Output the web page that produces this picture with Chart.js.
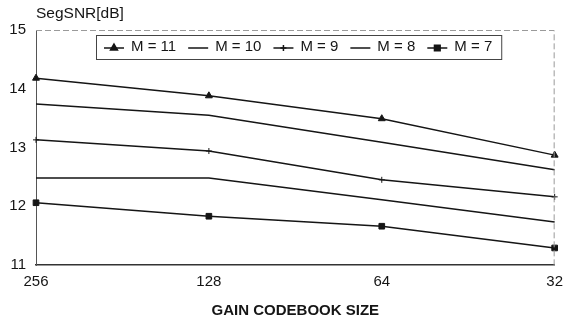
<!DOCTYPE html>
<html>
<head>
<meta charset="utf-8">
<script src="https://cdn.jsdelivr.net/npm/chart.js@4.4.0/dist/chart.umd.min.js"></script>
<style>
    html, body { margin: 0; padding: 0; background: #fff; }
    #wrap { width: 571px; height: 320px; position: relative; }
</style>
</head>
<body>
<div id="wrap"><canvas id="snrChart" width="571" height="320"></canvas></div>
<script>
// Dados
const codebookSizes = ['256', '128', '64', '32'];
const seriesLabels = ['M = 11', 'M = 10', 'M = 9', 'M = 8', 'M = 7'];
const m11 = [14.18, 13.88, 13.49, 12.87];
const m10 = [13.74, 13.55, 13.09, 12.62];
const m9 = [13.13, 12.94, 12.45, 12.16];
const m8 = [12.48, 12.48, 12.11, 11.73];
const m7 = [12.06, 11.83, 11.66, 11.29];
const yTicks = [11, 12, 13, 14, 15];

const seriesValues = [m11, m10, m9, m8, m7];
const markerStyles = ['triangle', 'line', 'cross', 'line', 'rect'];
const markerSizes = [4, 0, 3, 0, 4];

const ink = '#151515';

// Legenda dentro da área do gráfico, com moldura
const boxedLegend = {
    id: 'boxedLegend',
    afterDraw(chart) {
        const ctx = chart.ctx;
        const area = chart.chartArea;
        ctx.save();
        // moldura tracejada superior e direita
        ctx.strokeStyle = '#9a9a9a';
        ctx.lineWidth = 1;
        ctx.setLineDash([6, 3]);
        ctx.beginPath();
        ctx.moveTo(area.left, area.top + 0.5);
        ctx.lineTo(area.right - 0.5, area.top + 0.5);
        ctx.lineTo(area.right - 0.5, area.bottom);
        ctx.stroke();
        ctx.setLineDash([]);

        ctx.font = '15px "Liberation Sans", Arial, sans-serif';
        ctx.textBaseline = 'middle';
        const boxLeft = 96, boxTop = 35, boxH = 24;
        const midY = boxTop + boxH / 2;
        let x = boxLeft + 8;
        const items = [];
        chart.data.datasets.forEach((ds, i) => {
            const lineX = x;
            x += 20 + 7;
            const textX = x;
            x += ctx.measureText(ds.label).width + 12;
            items.push({ ds, i, lineX, textX });
        });
        const boxW = x - boxLeft - 3;
        ctx.fillStyle = '#fff';
        ctx.fillRect(boxLeft, boxTop, boxW, boxH);
        ctx.strokeStyle = '#444';
        ctx.strokeRect(boxLeft + 0.5, boxTop + 0.5, boxW, boxH);

        items.forEach(it => {
            ctx.strokeStyle = ink;
            ctx.lineWidth = 1.5;
            ctx.beginPath();
            ctx.moveTo(it.lineX, midY + 1);
            ctx.lineTo(it.lineX + 20, midY + 1);
            ctx.stroke();
            if (it.ds.pointRadius > 0) {
                Chart.helpers.drawPoint(ctx, {
                    pointStyle: it.ds.pointStyle,
                    radius: it.ds.pointRadius,
                    borderWidth: 1
                }, it.lineX + 10, midY + 1);
                ctx.fillStyle = ink;
                ctx.fill();
            }
            ctx.fillStyle = ink;
            ctx.fillText(it.ds.label, it.textX, midY);
        });

        // título do eixo Y
        ctx.font = '15.5px "Liberation Sans", Arial, sans-serif';
        ctx.textBaseline = 'middle';
        ctx.fillStyle = ink;
        ctx.fillText('SegSNR[dB]', 36, 14);
        ctx.restore();
    }
};

const ctx = document.getElementById('snrChart').getContext('2d');
const snrChart = new Chart(ctx, {
    type: 'line',
    data: {
        labels: codebookSizes,
        datasets: seriesLabels.map((label, i) => ({
            label: label,
            data: seriesValues[i],
            borderColor: ink,
            backgroundColor: ink,
            borderWidth: 1.5,
            pointStyle: markerStyles[i],
            pointRadius: markerSizes[i],
            pointBorderWidth: 1,
            pointBorderColor: ink,
            pointBackgroundColor: ink,
            tension: 0,
            fill: false
        }))
    },
    options: {
        responsive: false,
        animation: false,
        devicePixelRatio: 1,
        layout: { padding: { top: 30, right: 10, left: 0, bottom: 0 } },
        plugins: {
            legend: { display: false },
            tooltip: { enabled: false }
        },
        scales: {
            x: {
                offset: false,
                grid: { display: false, drawTicks: false },
                border: { display: true, color: '#333', width: 1.5 },
                ticks: {
                    color: ink,
                    padding: 8,
                    maxRotation: 0,
                    font: { family: '"Liberation Sans", Arial, sans-serif', size: 15 }
                },
                title: {
                    display: true,
                    text: 'GAIN CODEBOOK SIZE',
                    color: ink,
                    padding: { top: 0, bottom: 0 },
                    font: { family: '"Liberation Sans", Arial, sans-serif', size: 15, weight: 'bold' }
                },
                afterFit(scale) { scale.height = 55; }
            },
            y: {
                min: 11,
                max: 15,
                afterBuildTicks(scale) {
                    scale.ticks = yTicks.map(v => ({ value: v }));
                },
                grid: { display: false, drawTicks: false },
                border: { display: true, color: '#555', width: 1, dash: [6, 2] },
                ticks: {
                    color: ink,
                    padding: 10,
                    font: { family: '"Liberation Sans", Arial, sans-serif', size: 15 }
                },
                afterFit(scale) { scale.width = 36; }
            }
        }
    },
    plugins: [boxedLegend]
});
</script>
</body>
</html>
